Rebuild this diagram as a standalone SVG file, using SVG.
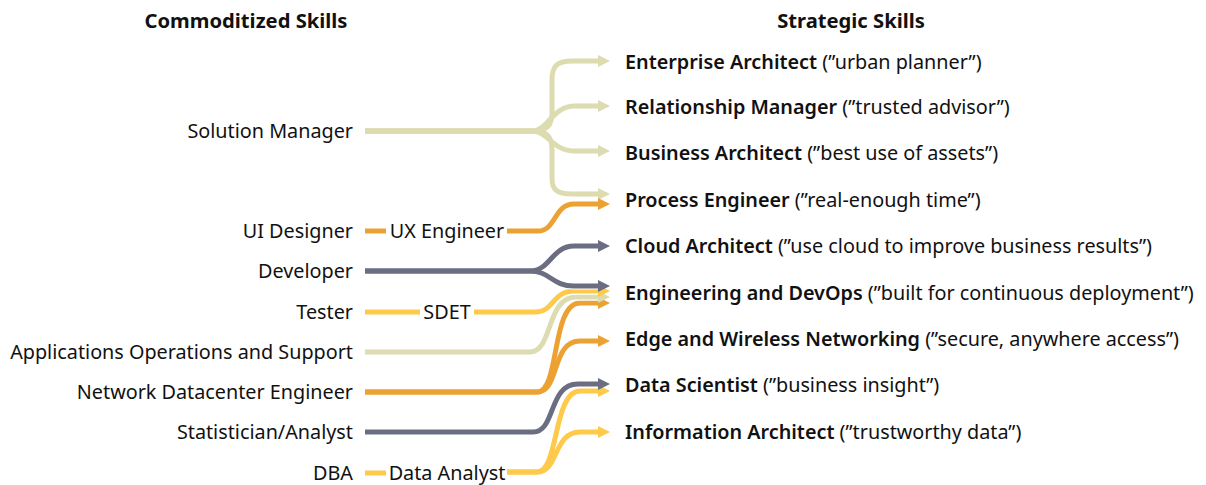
<svg xmlns="http://www.w3.org/2000/svg" width="1206" height="485" viewBox="0 0 1206 485">
<defs>
<style>
text{font-family:"Noto Sans","Open Sans",sans-serif;font-size:19.8px;fill:#111}
.h{font-weight:bold;text-anchor:middle;font-size:20.2px}
.l{text-anchor:end}
.m{text-anchor:middle}
.b{font-weight:600}
path{fill:none;stroke-width:5}
.w{stroke:#fff;stroke-width:7}
.sg{stroke:#dcdcb0}
.or{stroke:#eba232}
.gy{stroke:#6b6d81}
.ye{stroke:#ffc94a}
</style>
<marker id="asg" markerUnits="userSpaceOnUse" markerWidth="14" markerHeight="14" refX="2" refY="7" orient="auto"><path d="M0,1 L12,7 L0,13 z" style="fill:#dcdcb0;stroke:none"/></marker>
<marker id="aor" markerUnits="userSpaceOnUse" markerWidth="14" markerHeight="14" refX="2" refY="7" orient="auto"><path d="M0,1 L12,7 L0,13 z" style="fill:#eba232;stroke:none"/></marker>
<marker id="agy" markerUnits="userSpaceOnUse" markerWidth="14" markerHeight="14" refX="2" refY="7" orient="auto"><path d="M0,1 L12,7 L0,13 z" style="fill:#6b6d81;stroke:none"/></marker>
<marker id="aye" markerUnits="userSpaceOnUse" markerWidth="14" markerHeight="14" refX="2" refY="7" orient="auto"><path d="M0,1 L12,7 L0,13 z" style="fill:#ffc94a;stroke:none"/></marker>
</defs>
<rect width="1206" height="485" fill="#fff"/>
<g id="headers">
<text class="h" x="246" y="28">Commoditized Skills</text>
<text class="h" x="851" y="28">Strategic Skills</text>
</g>
<g id="connectors">
<g id="c-solution">
<path class="w" d="M365,131 H532 C547,131 552,126 552,112 V80 C552,66 557,61 572,61 H600"/>
<path class="w" d="M365,131 H532 C548,131 552,106 575,106 H600"/>
<path class="w" d="M365,131 H532 C548,131 552,151 575,151 H600"/>
<path class="w" d="M365,131 H532 C547,131 552,136 552,150 V178 C552,190 557,194 572,194 H600"/>
<path class="sg" marker-end="url(#asg)" d="M365,131 H532 C547,131 552,126 552,112 V80 C552,66 557,61 572,61 H600"/>
<path class="sg" marker-end="url(#asg)" d="M365,131 H532 C548,131 552,106 575,106 H600"/>
<path class="sg" marker-end="url(#asg)" d="M365,131 H532 C548,131 552,151 575,151 H600"/>
<path class="sg" marker-end="url(#asg)" d="M365,131 H532 C547,131 552,136 552,150 V178 C552,190 557,194 572,194 H600"/>
</g>
<g id="c-ui">
<path class="or" d="M365,231 H386"/>
<path class="w" d="M507,231 H538 C556,231 554,204 574,204 H600"/>
<path class="or" marker-end="url(#aor)" d="M507,231 H538 C556,231 554,204 574,204 H600"/>
</g>
<g id="c-dba">
<path class="ye" d="M365,473 H386"/>
<path class="w" d="M507,472 H537 C559,472 553,391 580,391 H600"/>
<path class="w" d="M507,472 H537 C559,472 553,432 580,432 H600"/>
<path class="ye" marker-end="url(#aye)" d="M507,472 H537 C559,472 553,391 580,391 H600"/>
<path class="ye" marker-end="url(#aye)" d="M507,472 H537 C559,472 553,432 580,432 H600"/>
</g>
<g id="c-network">
<path class="w" d="M365,392 H537 C560,392 551,303 580,303 H600"/>
<path class="w" d="M365,392 H537 C560,392 551,341 580,341 H600"/>
<path class="or" marker-end="url(#aor)" d="M365,392 H537 C560,392 551,303 580,303 H600"/>
<path class="or" marker-end="url(#aor)" d="M365,392 H537 C560,392 551,341 580,341 H600"/>
</g>
<g id="c-stat">
<path class="w" d="M365,432 H533 C556,432 548,384 578,384 H600"/>
<path class="gy" marker-end="url(#agy)" d="M365,432 H533 C556,432 548,384 578,384 H600"/>
</g>
<g id="c-apps">
<path class="w" d="M365,352 H530 C553,352 546,297 576,297 H600"/>
<path class="sg" marker-end="url(#asg)" d="M365,352 H530 C553,352 546,297 576,297 H600"/>
</g>
<g id="c-tester">
<path class="ye" d="M365,312 H420"/>
<path class="w" d="M474,312 H535 C555,312 551,291 575,291 H600"/>
<path class="ye" marker-end="url(#aye)" d="M474,312 H535 C555,312 551,291 575,291 H600"/>
</g>
<g id="c-developer">
<path class="w" d="M365,271 H530 C550,271 552,246 574,246 H600"/>
<path class="w" d="M365,271 H530 C550,271 552,286 574,286 H600"/>
<path class="gy" marker-end="url(#agy)" d="M365,271 H530 C550,271 552,246 574,246 H600"/>
<path class="gy" marker-end="url(#agy)" d="M365,271 H530 C550,271 552,286 574,286 H600"/>
</g>
</g>
<g id="n-solution"><text class="l" x="353" y="138">Solution Manager</text></g>
<g id="n-ui"><text class="l" x="353" y="238">UI Designer</text></g>
<g id="n-ux"><text class="m" x="447" y="238">UX Engineer</text></g>
<g id="n-developer"><text class="l" x="353" y="278">Developer</text></g>
<g id="n-tester"><text class="l" x="353" y="319">Tester</text></g>
<g id="n-sdet"><text class="m" x="447" y="319">SDET</text></g>
<g id="n-apps"><text class="l" x="353" y="359">Applications Operations and Support</text></g>
<g id="n-network"><text class="l" x="353" y="399">Network Datacenter Engineer</text></g>
<g id="n-stat"><text class="l" x="353" y="439">Statistician/Analyst</text></g>
<g id="n-dba"><text class="l" x="353" y="480">DBA</text></g>
<g id="n-dataanalyst"><text class="m" x="447" y="480">Data Analyst</text></g>
<g id="n-enterprise"><text x="625" y="69"><tspan class="b">Enterprise Architect</tspan> (”urban planner”)</text></g>
<g id="n-relationship"><text x="625" y="114"><tspan class="b">Relationship Manager</tspan> (”trusted advisor”)</text></g>
<g id="n-business"><text x="625" y="160"><tspan class="b">Business Architect</tspan> (”best use of assets”)</text></g>
<g id="n-process"><text x="625" y="207"><tspan class="b">Process Engineer</tspan> (”real-enough time”)</text></g>
<g id="n-cloud"><text x="625" y="253"><tspan class="b">Cloud Architect</tspan> (”use cloud to improve business results”)</text></g>
<g id="n-devops"><text x="625" y="300"><tspan class="b">Engineering and DevOps</tspan> (”built for continuous deployment”)</text></g>
<g id="n-edge"><text x="625" y="346"><tspan class="b">Edge and Wireless Networking</tspan> (”secure, anywhere access”)</text></g>
<g id="n-datasci"><text x="625" y="392"><tspan class="b">Data Scientist</tspan> (”business insight”)</text></g>
<g id="n-infoarch"><text x="625" y="439"><tspan class="b">Information Architect</tspan> (”trustworthy data”)</text></g>
</svg>
